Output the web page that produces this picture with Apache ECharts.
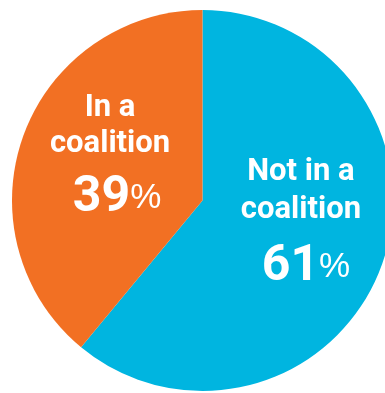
<!DOCTYPE html>
<html>
<head>
<meta charset="utf-8">
<style>
  html, body { margin: 0; padding: 0; background: #ffffff; }
  #chart { width: 385px; height: 393px; }
</style>
<script src="https://cdn.jsdelivr.net/npm/echarts@6/dist/echarts.min.js"></script>
</head>
<body>
<div id="chart"></div>
<script>
// Data
var categories = ['Not in a coalition', 'In a coalition'];
var labelLines = [['Not in a', 'coalition'], ['In a', 'coalition']];
var values = [61, 39];
var colors = ['#00b5e0', '#f27023'];

var chart = echarts.init(document.getElementById('chart'), null, { renderer: 'canvas' });

function richFor(lh1, lh2, lh3, numPad) {
  return {
    t1: { fontFamily: 'Roboto', fontWeight: 700, fontSize: 31, color: '#fff', lineHeight: lh1 },
    t2: { fontFamily: 'Roboto', fontWeight: 700, fontSize: 31, color: '#fff', lineHeight: lh2 },
    num: { fontFamily: 'Roboto', fontWeight: 700, fontSize: 50, color: '#fff', lineHeight: lh3, padding: [0, 0, 0, numPad] },
    pct: { fontFamily: 'Liberation Sans', fontWeight: 400, fontSize: 35, color: '#fff', lineHeight: lh3 }
  };
}

var labelConf = [
  { padding: [0, 0, 8, 12], rich: richFor(38, 38, 78, 10) },
  { padding: [0, 0, 10, 0], rich: richFor(36, 36, 72, 14) }
];

var data = categories.map(function (c, i) {
  return {
    name: c,
    value: values[i],
    itemStyle: { color: colors[i] },
    label: {
      show: true,
      position: 'inside',
      align: 'center',
      padding: labelConf[i].padding,
      rich: labelConf[i].rich,
      formatter: function () {
        return '{t1|' + labelLines[i][0] + '}\n{t2|' + labelLines[i][1] + '}\n{num|' + values[i] + '}{pct|%}';
      }
    }
  };
});

chart.setOption({
  backgroundColor: '#ffffff',
  animation: false,
  series: [{
    type: 'pie',
    center: [202.5, 200.5],
    radius: [0, 190.5],
    startAngle: 90,
    clockwise: true,
    silent: true,
    avoidLabelOverlap: false,
    labelLine: { show: false },
    itemStyle: { borderWidth: 0 },
    emphasis: { disabled: true },
    data: data
  }]
});
</script>
</body>
</html>
